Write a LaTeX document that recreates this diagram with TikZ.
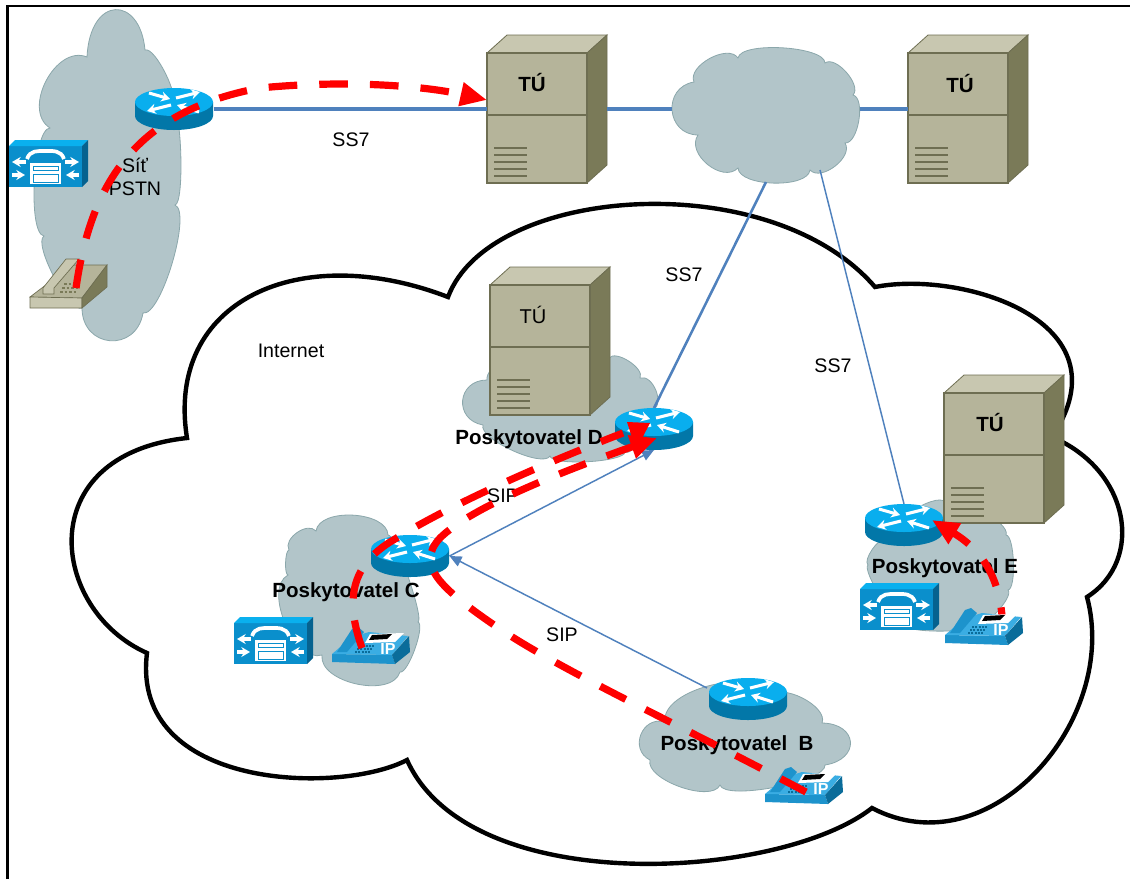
\documentclass[tikz,border=0pt]{standalone}
\usepackage{fontspec}
\setmainfont{Liberation Sans}
\usetikzlibrary{arrows.meta}
\definecolor{cloudfill}{HTML}{B2C5C9}
\definecolor{cloudedge}{HTML}{8BA7AB}
\definecolor{linkblue}{HTML}{4F81BD}
\definecolor{srvfront}{HTML}{B5B49A}
\definecolor{srvside}{HTML}{7A7A58}
\definecolor{srvtop}{HTML}{C8C7B0}
\definecolor{srvedge}{HTML}{6E6E52}
\definecolor{rtop}{HTML}{09AEEE}
\definecolor{rside}{HTML}{0277A8}
\definecolor{pfront}{HTML}{0A8FCC}
\definecolor{ptop}{HTML}{0AB0EE}
\definecolor{pside}{HTML}{06628F}
\definecolor{iptop}{HTML}{3AADE3}
\definecolor{ipfront}{HTML}{1D93CC}
\definecolor{ipside}{HTML}{0A6C9A}
\tikzset{
  x=0.75pt,y=-0.75pt,
  lb/.style={bend left=85,looseness=#1},
  graycloud/.style={fill=cloudfill,draw=cloudedge,line width=0.6pt},
  netcloud/.style={fill=white,draw=black,line width=3.3pt,line join=miter},
  ghost/.style={inner sep=0pt,outer sep=0pt,minimum width=#1*0.75pt},
  thicklink/.style={draw=linkblue,line width=2.4pt},
  midlink/.style={draw=linkblue,line width=1.9pt},
  thinlink/.style={draw=linkblue,line width=1.1pt},
  sipflow/.style={draw=linkblue,line width=1.1pt,-{Triangle[length=9pt,width=8pt]}},
  redflow/.style={draw=red,line width=5.4pt,dash pattern=on 21.5pt off 16.5pt},
  redtip/.style={-{Triangle[length=20pt,width=17pt,fill=red]}},
  lbl/.style={font=\fontsize{14.7}{17}\selectfont,inner sep=0pt},
  bl/.style={font=\fontsize{15.4}{18}\selectfont\bfseries,inner sep=0pt},
  wa/.style={draw=white,line width=2.3pt,-{Stealth[length=6.5pt,width=7.5pt]}},
  srvpic/.pic={
    \fill[srvfront] (0,0) rectangle (100,130);
    \filldraw[fill=srvtop,draw=srvedge,line width=.6pt] (0,0) -- (20,-18) -- (120,-18) -- (100,0) -- cycle;
    \filldraw[fill=srvside,draw=srvedge,line width=.6pt] (100,0) -- (120,-18) -- (120,112) -- (100,130) -- cycle;
    \draw[srvedge,line width=.9pt] (0,0) rectangle (100,130);
    \draw[srvedge,line width=.9pt] (0,62) -- (100,62);
    \draw[srvedge,line width=1pt] (7,95) -- (40,95) (7,102) -- (40,102) (7,109) -- (40,109) (7,116) -- (40,116) (7,123) -- (40,123);
  },
  routerpic/.pic={
    \fill[rside] (-39,0) -- (-39,14) arc[start angle=180,end angle=360,x radius=39,y radius=-14] -- (39,0) -- cycle;
    \fill[rtop] (0,0) ellipse[x radius=39,y radius=14];
    \draw[wa] (-25,-9) -- (-4,-3);
    \draw[wa] (2,-4) -- (26,-10);
    \draw[wa] (-3,3) -- (-27,9);
    \draw[wa] (25,10) -- (3,3);
  },
  pbxpic/.pic={
    \fill[pfront] (0,0) rectangle (73,41);
    \fill[ptop] (0,0) -- (6,-6) -- (79,-6) -- (73,0) -- cycle;
    \fill[pside] (73,0) -- (79,-6) -- (79,35) -- (73,41) -- cycle;
    \fill[white] (21,17) rectangle (52,38);
    \draw[pfront,line width=.7pt] (24,20) rectangle (49,24) (24,28) rectangle (49,36);
    \draw[white,line width=2.8pt] (18,13) .. controls (21,4) and (29,5) .. (36,5) .. controls (44,5) and (52,4) .. (55,13);
    \draw[pfront,line width=.8pt] (27,12) -- (27,9) -- (46,9) -- (46,12);
    \draw[wa] (17,16) -- (3,16);
    \draw[wa] (56,16) -- (70,16);
    \draw[wa] (3,29) -- (16,29);
    \draw[wa] (70,29) -- (57,29);
  },
  ippic/.pic={
    \fill[ipfront] (0,27) -- (60,28) -- (63,37) -- (0,35) -- cycle;
    \fill[iptop] (0,27) -- (20,10) -- (37,5) -- (76,9) -- (60,28) -- cycle;
    \fill[ipside] (60,28) -- (77,9) -- (78,25) -- (63,37) -- cycle;
    \fill[ipfront] (5,25) -- (15,25) -- (32,5) -- (26,0) -- (20,2) -- cycle;
    \fill[white] (38,7) -- (72,6) -- (63,15) -- (33,16) -- cycle;
    \fill[black] (40,8) -- (60,7) -- (55,12) -- (37,13) -- cycle;
    \draw[ipside,line width=1pt,dash pattern=on 1.5pt off 1pt] (27,19) -- (42,19) (25,22) -- (40,22) (23,25) -- (38,25);
    \node[text=white,font=\fontsize{12}{12}\selectfont\bfseries,inner sep=0pt] at (56,22) {IP};
  },
  phonepic/.pic={
    \filldraw[fill=srvfront,draw=srvedge,line width=.5pt] (0,39) -- (42,7) -- (77,7) -- (52,40) -- cycle;
    \filldraw[fill=srvtop,draw=srvedge,line width=.5pt] (0,39) -- (52,40) -- (52,50) -- (0,50) -- cycle;
    \filldraw[fill=srvside,draw=srvedge,line width=.5pt] (52,40) -- (77,7) -- (77,29) -- (52,50) -- cycle;
    \filldraw[fill=srvtop,draw=srvedge,line width=.5pt] (13,30) -- (36,1) -- (49,1) -- (24,30) -- (24,36) -- (13,36) -- cycle;
    \draw[srvside,line width=1.4pt,dash pattern=on 2.2pt off 1.2pt] (34,26) -- (50,26) (32,30) -- (48,30) (30,34) -- (46,34);
  }
}
\newcommand{\SrvAt}[3]{\pic at (#2,#3) {srvpic}; \node[ghost=120,minimum height=111pt] (#1) at (#2+60,#3+56) {};}
\newcommand{\PbxAt}[3]{\pic at (#2,#3) {pbxpic}; \node[ghost=79,minimum height=35pt] (#1) at (#2+39,#3+17) {};}
\newcommand{\IpAt}[3]{\pic at (#2,#3) {ippic}; \node[ghost=78,minimum height=28pt] (#1) at (#2+39,#3+18) {};}
\begin{document}
\begin{tikzpicture}
\useasboundingbox (0,0) rectangle (1130,879);
\fill[white] (0,0) rectangle (1130,879);
% frame
\draw[black,line width=1.7pt] (7.5,879) -- (7.5,6) -- (1130,6);
% PSTN cloud
\path[graycloud] (87,57) .. controls (90,-5) and (140,-5) .. (145,50) to[lb=.45] (172,105) to[lb=.25] (175,205) to[lb=.42] (143,313) to[lb=1.7] (82,308) to[lb=.43] (44,236) to[lb=.4] (50,128) to[lb=1.08] (87,57) -- cycle;
% central cloud
\path[graycloud] (694,82) to[lb=.9] (738,58) to[lb=.5] (825,63) to[lb=.8] (853,95) to[lb=.7] (845,143) to[lb=.95] (810,170) to[lb=.67] (738,168) to[lb=1.1] (698,135) to[lb=1.55] (694,82) -- cycle;
% Internet
\path[netcloud] (187,438)
  .. controls (165,300) and (300,240) .. (448,297)
  .. controls (490,185) and (770,165) .. (875,287)
  .. controls (960,270) and (1130,320) .. (1052,437)
  .. controls (1130,470) and (1145,560) .. (1087,597)
  .. controls (1120,720) and (990,870) .. (872,808)
  .. controls (780,880) and (470,900) .. (407,760)
  .. controls (340,795) and (130,790) .. (147,653)
  .. controls (50,610) and (30,455) .. (187,438) -- cycle;
% provider clouds
\path[graycloud] (487,380) to[lb=.6] (609,358) to[lb=.75] (640,378) to[lb=1] (653,410) to[lb=.5] (625,452) to[lb=.35] (550,456) to[lb=.5] (483,425) to[lb=1.7] (487,380) -- cycle;
\path[graycloud] (316,531) to[lb=.85] (388,535) to[lb=.2] (418,622) to[lb=.4] (400,672) to[lb=.9] (322,655) to[lb=.85] (288,575) to[lb=.4] (289,550) to[lb=1] (316,531) -- cycle;
\path[graycloud] (665,722) to[lb=.8] (770,697) to[lb=.8] (822,723) to[lb=2.2] (825,765) to[lb=.4] (720,785) to[lb=.7] (650,760) to[lb=1.5] (665,722) -- cycle;
\path[graycloud] (885,540) to[lb=.5] (945,502) to[lb=.5] (1006,535) to[lb=.4] (1008,590) to[lb=.5] (975,625) to[lb=.3] (905,625) to[lb=.3] (868,565) to[lb=.6] (885,540) -- cycle;
% named places
\node[ghost=188,minimum height=109.5pt] (cloudT) at (766,109) {};
\coordinate (cloudTe) at (820,170);
\coordinate (rBin) at (707,688);
% nodes
\SrvAt{tuA}{487}{53}
\SrvAt{tuB}{908}{53}
\SrvAt{tuD}{490}{285}
\SrvAt{tuE}{944}{393}
\node[ghost=79,minimum height=31.5pt] (rA) at (174,109) {};
\node[ghost=79,minimum height=31.5pt] (rC) at (410,556) {};
\node[ghost=79,minimum height=31.5pt] (rD) at (654,429) {};
\node[ghost=79,minimum height=31.5pt] (rE) at (904,525) {};
\node[ghost=79,minimum height=31.5pt] (rB) at (748,699) {};
% links
\draw[thicklink] (rA.east) -- (tuA.west);
\draw[thicklink] (tuA.east) -- (cloudT.west);
\draw[thicklink] (cloudT.east) -- (tuB.west);
\draw[midlink] (cloudT.south) -- (rD.north);
\draw[thinlink] (cloudTe) -- (rE.north);
\draw[sipflow] (rBin) -- (rC.east);
\draw[sipflow] (rC.east) -- (rD.south);
% routers
\pic at (174,102) {routerpic};
\pic at (410,549) {routerpic};
\pic at (654,422) {routerpic};
\pic at (904,518) {routerpic};
\pic at (748,692) {routerpic};
% PBX and phones
\PbxAt{pbxA}{9}{146}
\PbxAt{pbxC}{234}{623}
\PbxAt{pbxE}{860}{589}
\pic at (30,258) {phonepic};
\node[ghost=77,minimum height=37pt] (phA) at (68,283) {};
\IpAt{ipC}{332}{627}
\IpAt{ipB}{765}{767}
% labels
\node[lbl,align=center] (tPstn) at (135,177) {Síť\\PSTN};
\node[lbl] (tSs1) at (351,140) {SS7};
\node[lbl] (tSs2) at (684,275) {SS7};
\node[lbl] (tSs3) at (833,366) {SS7};
\node[lbl] (tSip1) at (503,496) {SIP};
\node[lbl] (tSip2) at (562,635) {SIP};
\node[lbl] (tNet) at (291,351) {Internet};
\node[bl] (tA) at (532,82) {TÚ};
\node[bl] (tB) at (960,83) {TÚ};
\node[lbl,font=\fontsize{15}{18}\selectfont] (tD) at (533,315) {TÚ};
\node[bl] (tE) at (990,422) {TÚ};
\node[bl] (pD) at (529,439) {Poskytovatel D};
\node[bl] (pC) at (346,592) {Poskytovatel C};
\node[bl] (pE) at (945,568) {Poskytovatel E};
\node[bl] (pB) at (737,745) {Poskytovatel\ \ B};
% signalling paths
\coordinate (sA) at (76,288);
\draw[redflow,redtip] (sA) .. controls (90,190) and (130,112) .. (260,88) .. controls (340,80) and (420,85) .. (tuA.west |- 0,100);
\coordinate (sC) at (362,648);
\coordinate (eC) at (623,433);
\draw[redflow] (sC) .. controls (345,600) and (350,565) .. (395,539) .. controls (450,505) and (540,465) .. (eC);
\fill[red] (627,422) -- (650,423) -- (636,450) -- cycle;
\coordinate (sB) at (806,792);
\coordinate (eB) at (657,438);
\draw[redflow,redtip] (sB) .. controls (680,725) and (560,670) .. (497,627) .. controls (440,588) and (415,565) .. (440,538) .. controls (470,508) and (560,472) .. (eB);
\coordinate (sE) at (1003,636);
\coordinate (eE) at (932,520);
\draw[redflow,redtip] (sE) .. controls (1003,590) and (990,555) .. (eE);
% IP phone over the path
\IpAt{ipE}{945}{608}
\end{tikzpicture}
\end{document}
